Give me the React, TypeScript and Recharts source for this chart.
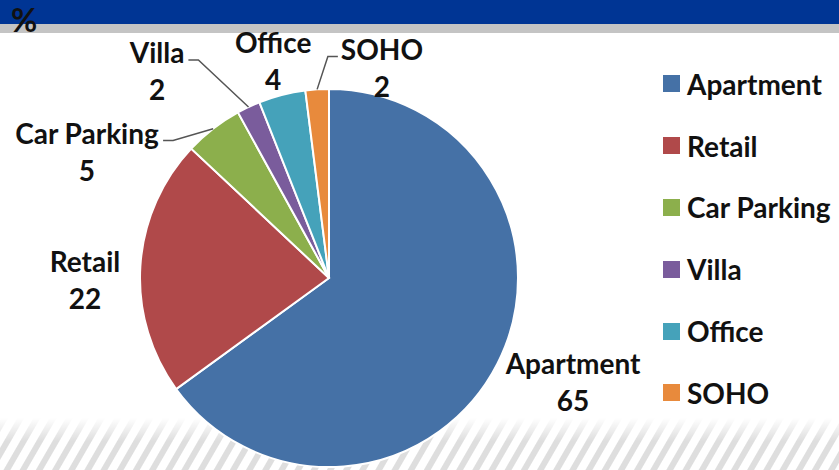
import { PieChart, Pie, Cell, Legend } from 'recharts';

const CATEGORIES = ['Apartment', 'Retail', 'Car Parking', 'Villa', 'Office', 'SOHO'];
const SHARES = [65, 22, 5, 2, 4, 2];
const COLORS = ['#4571a6', '#b0494a', '#8caf4c', '#7a5c9c', '#45a2ba', '#e88a3c'];

// where each label sits relative to its slice (Excel "best fit" look)
const LABEL_LAYOUT: Record<string, { shift: number; radius: number; leader?: 'left' | 'right' }> = {
  Apartment: { shift: 2, radius: 1.425 },
  Retail: { shift: 6.4, radius: 1.293 },
  'Car Parking': { shift: 26.5, radius: 1.421, leader: 'left' },
  Villa: { shift: 15.9, radius: 1.384, leader: 'left' },
  Office: { shift: 0.7, radius: 1.134 },
  SOHO: { shift: -18.4, radius: 1.097, leader: 'right' },
};

const FONT = 'Lato, "Open Sans", sans-serif';
const RAD = Math.PI / 180;

const data = CATEGORIES.map((name, i) => ({ name, value: SHARES[i], color: COLORS[i] }));

let ctx: CanvasRenderingContext2D | null = null;
function textWidth(s: string) {
  if (!ctx) ctx = document.createElement('canvas').getContext('2d');
  if (!ctx) return s.length * 14;
  ctx.font = `bold 28px Lato`;
  return ctx.measureText(s).width;
}

function SliceLabel(props: any) {
  const { cx, cy, midAngle, outerRadius, name, value } = props;
  const lay = LABEL_LAYOUT[name];
  const ang = (midAngle + lay.shift) * RAD;
  const r = outerRadius * lay.radius;
  const lx = cx + r * Math.cos(ang);
  const ly = cy - r * Math.sin(ang);
  const nameY = ly - 18;
  const valueY = ly + 19;

  let leader = null;
  if (lay.leader) {
    const w = textWidth(name);
    const ex = cx + outerRadius * Math.cos(midAngle * RAD);
    const ey = cy - outerRadius * Math.sin(midAngle * RAD);
    const y = nameY - 3;
    const x0 = lay.leader === 'left' ? lx + w / 2 + 4 : lx - w / 2 - 3;
    const x1 = lay.leader === 'left' ? x0 + 10 : x0 - 10;
    leader = (
      <polyline
        points={`${x0},${y} ${x1},${y} ${ex},${ey}`}
        fill="none"
        stroke="#555"
        strokeWidth={1.5}
      />
    );
  }

  return (
    <g>
      {leader}
      <text x={lx} y={nameY} textAnchor="middle" fontFamily={FONT} fontWeight="bold" fontSize={28} fill="#111">
        {name}
      </text>
      <text x={lx} y={valueY} textAnchor="middle" fontFamily={FONT} fontWeight="bold" fontSize={28} fill="#111">
        {value}
      </text>
    </g>
  );
}

function LegendList() {
  return (
    <div style={{ fontFamily: FONT, fontWeight: 'bold', fontSize: 28, color: '#111' }}>
      {data.map((d) => (
        <div key={d.name} style={{ display: 'flex', alignItems: 'center', height: 61.8 }}>
          <span style={{ width: 17, height: 17, background: d.color, marginRight: 7, flexShrink: 0 }} />
          <span>{d.name}</span>
        </div>
      ))}
    </div>
  );
}

export default function App() {
  return (
    <div style={{ position: 'absolute', left: 0, top: 0, width: 839, height: 470, overflow: 'hidden', background: '#fff' }}>
      <svg width={839} height={470} style={{ position: 'absolute', left: 0, top: 0 }}>
        <defs>
          <pattern id="hatch" width={14} height={14} patternUnits="userSpaceOnUse" patternTransform="rotate(30)">
            <rect x={0} y={0} width={6} height={14} fill="#dedede" />
          </pattern>
          <linearGradient id="fade" x1="0" y1="0" x2="0" y2="1">
            <stop offset="0" stopColor="#fff" stopOpacity={1} />
            <stop offset="0.45" stopColor="#fff" stopOpacity={0} />
          </linearGradient>
        </defs>
        <rect x={0} y={0} width={839} height={24} fill="#003594" />
        <rect x={0} y={24} width={839} height={9} fill="#c4c4c4" />
        <rect x={0} y={418} width={839} height={52} fill="url(#hatch)" />
        <rect x={0} y={418} width={839} height={52} fill="url(#fade)" />
        <text x={11} y={32} fontFamily={FONT} fontWeight="bold" fontSize={32} fill="#111">%</text>
      </svg>
      <div style={{ position: 'absolute', left: 0, top: 0 }}>
        <PieChart width={839} height={470} margin={{ top: 0, right: 0, bottom: 0, left: 0 }}>
          <Pie
            data={data}
            dataKey="value"
            nameKey="name"
            cx={329}
            cy={278}
            outerRadius={189}
            startAngle={90}
            endAngle={-270}
            stroke="#fff"
            strokeWidth={2}
            label={SliceLabel}
            labelLine={false}
            isAnimationActive={false}
          >
            {data.map((d) => (
              <Cell key={d.name} fill={d.color} />
            ))}
          </Pie>
          <Legend
            layout="vertical"
            align="right"
            verticalAlign="top"
            content={() => <LegendList />}
            wrapperStyle={{ left: 663, top: 53, width: 176 }}
          />
        </PieChart>
      </div>
    </div>
  );
}
